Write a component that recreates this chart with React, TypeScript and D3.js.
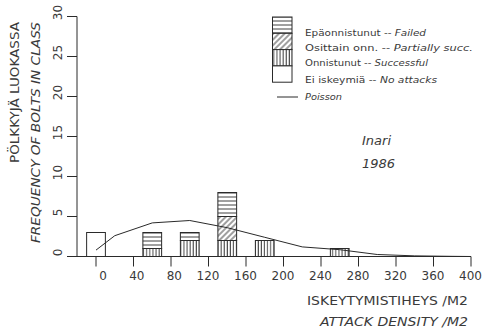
import React from "react";
import * as d3 from "d3";

const classes = [0, 60, 100, 140, 180, 260];
const noAttacks = [3, 0, 0, 0, 0, 0];
const successful = [0, 1, 2, 2, 2, 1];
const partial = [0, 0, 0, 3, 0, 0];
const failed = [0, 2, 1, 3, 0, 0];

const poissonX = [0, 20, 60, 100, 140, 180, 220, 260, 300, 340, 380, 400];
const poissonY = [0.8, 2.6, 4.2, 4.5, 3.6, 2.4, 1.2, 0.85, 0.25, 0.08, 0.02, 0.0];

const xTicks = [0, 40, 80, 120, 160, 200, 240, 280, 320, 360, 400];
const yTicks = [0, 5, 10, 15, 20, 25, 30];

const classWidth = 20;
const INK = "#2a2a2a";
const TXT = "#3a3a3a";
const FONT = "DejaVu Sans, sans-serif";

export default function App() {
  const x = d3.scaleLinear().domain([0, 400]).range([96, 471]);
  const y = d3.scaleLinear().domain([0, 30]).range([256.5, 16.5]);
  const bw = x(classWidth) - x(0);

  const line = d3
    .line<number>()
    .x((_, i) => x(poissonX[i]))
    .y((d) => y(d));

  const layers = [
    { key: "none", vals: noAttacks, fill: "white" },
    { key: "succ", vals: successful, fill: "url(#pVert)" },
    { key: "part", vals: partial, fill: "url(#pDiag)" },
    { key: "fail", vals: failed, fill: "url(#pHor)" },
  ];

  const bars: React.ReactNode[] = [];
  classes.forEach((c, i) => {
    let base = 0;
    layers.forEach((l) => {
      const v = l.vals[i];
      if (v > 0) {
        bars.push(
          <rect
            key={l.key + i}
            x={x(c) - bw / 2}
            y={y(base + v)}
            width={bw}
            height={y(base) - y(base + v)}
            fill={l.fill}
            stroke={INK}
            strokeWidth={1}
          />
        );
        base += v;
      }
    });
  });

  const legendItems = [
    { fill: "url(#pHor)", fi: "Epäonnistunut -- ", en: "Failed", len: 121, by: 36 },
    { fill: "url(#pDiag)", fi: "Osittain onn. -- ", en: "Partially succ.", len: 168, by: 51 },
    { fill: "url(#pVert)", fi: "Onnistunut -- ", en: "Successful", len: 123, by: 66 },
    { fill: "white", fi: "Ei iskeymiä -- ", en: "No attacks", len: 132, by: 83 },
  ];
  const legTop = 17;
  const legH = 16.3;

  return (
    <svg
      width={483}
      height={330}
      style={{ position: "fixed", left: 0, top: 0, background: "white" }}
      fontFamily={FONT}
    >
      <defs>
        <pattern id="pVert" patternUnits="userSpaceOnUse" width={3.1} height={4}>
          <rect width={3.1} height={4} fill="white" />
          <line x1={1} y1={0} x2={1} y2={4} stroke={INK} strokeWidth={0.9} />
        </pattern>
        <pattern id="pHor" patternUnits="userSpaceOnUse" width={4} height={4}>
          <rect width={4} height={4} fill="white" />
          <line x1={0} y1={1} x2={4} y2={1} stroke={INK} strokeWidth={0.9} />
        </pattern>
        <pattern
          id="pDiag"
          patternUnits="userSpaceOnUse"
          width={4}
          height={4}
          patternTransform="rotate(45)"
        >
          <rect width={4} height={4} fill="white" />
          <line x1={1} y1={0} x2={1} y2={4} stroke={INK} strokeWidth={0.9} />
        </pattern>
      </defs>

      {/* bars */}
      {bars}

      {/* poisson */}
      <path d={line(poissonY) || ""} fill="none" stroke={INK} strokeWidth={1} />

      {/* axes */}
      <line x1={77} y1={y(30)} x2={77} y2={y(0)} stroke={INK} strokeWidth={1} />
      <line x1={68} y1={y(0)} x2={x(400)} y2={y(0)} stroke={INK} strokeWidth={1} />
      {yTicks.map((t) => (
        <g key={"yt" + t}>
          <line x1={67} y1={y(t)} x2={77} y2={y(t)} stroke={INK} strokeWidth={1} />
          <text
            transform={`translate(62,${y(t) - 4}) rotate(-90)`}
            textAnchor="middle"
            fontSize={12}
            fill={TXT}
          >
            {t}
          </text>
        </g>
      ))}
      {xTicks.map((t) => (
        <g key={"xt" + t}>
          <line x1={x(t)} y1={y(0)} x2={x(t)} y2={y(0) + 10} stroke={INK} strokeWidth={1} />
          <text x={x(t) + 11} y={280} textAnchor="end" fontSize={12} fill={TXT}>
            {t}
          </text>
        </g>
      ))}

      {/* axis titles */}
      <text
        transform="translate(19,163) rotate(-90)"
        fontSize={12}
        fill={TXT}
        textLength={141}
        lengthAdjust="spacingAndGlyphs"
      >
        PÖLKKYJÄ LUOKASSA
      </text>
      <text
        transform="translate(40,243) rotate(-90)"
        fontSize={12}
        fontStyle="italic"
        fill={TXT}
        textLength={221}
        lengthAdjust="spacingAndGlyphs"
      >
        FREQUENCY OF BOLTS IN CLASS
      </text>
      <text
        x={307}
        y={305}
        fontSize={12}
        fill={TXT}
        textLength={161}
        lengthAdjust="spacingAndGlyphs"
      >
        ISKEYTYMISTIHEYS /M2
      </text>
      <text
        x={320}
        y={326}
        fontSize={12}
        fontStyle="italic"
        fill={TXT}
        textLength={148}
        lengthAdjust="spacingAndGlyphs"
      >
        ATTACK DENSITY /M2
      </text>

      {/* annotations */}
      <text x={362} y={145} fontSize={13} fontStyle="italic" fill={TXT}>
        Inari
      </text>
      <text x={362} y={168} fontSize={13} fontStyle="italic" fill={TXT}>
        1986
      </text>

      {/* legend */}
      {legendItems.map((it, i) => (
        <g key={"lg" + i}>
          <rect
            x={272.5}
            y={legTop + i * legH}
            width={19.5}
            height={legH}
            fill={it.fill}
            stroke={INK}
            strokeWidth={1}
          />
          <text
            x={305}
            y={it.by}
            fontSize={8}
            fill={TXT}
            textLength={it.len}
            lengthAdjust="spacingAndGlyphs"
          >
            {it.fi}
            <tspan fontStyle="italic">{it.en}</tspan>
          </text>
        </g>
      ))}
      <line x1={277} y1={97} x2={298} y2={97} stroke={INK} strokeWidth={1} />
      <text x={305} y={100} fontSize={8} fontStyle="italic" fill={TXT} textLength={37} lengthAdjust="spacingAndGlyphs">
        Poisson
      </text>
    </svg>
  );
}
